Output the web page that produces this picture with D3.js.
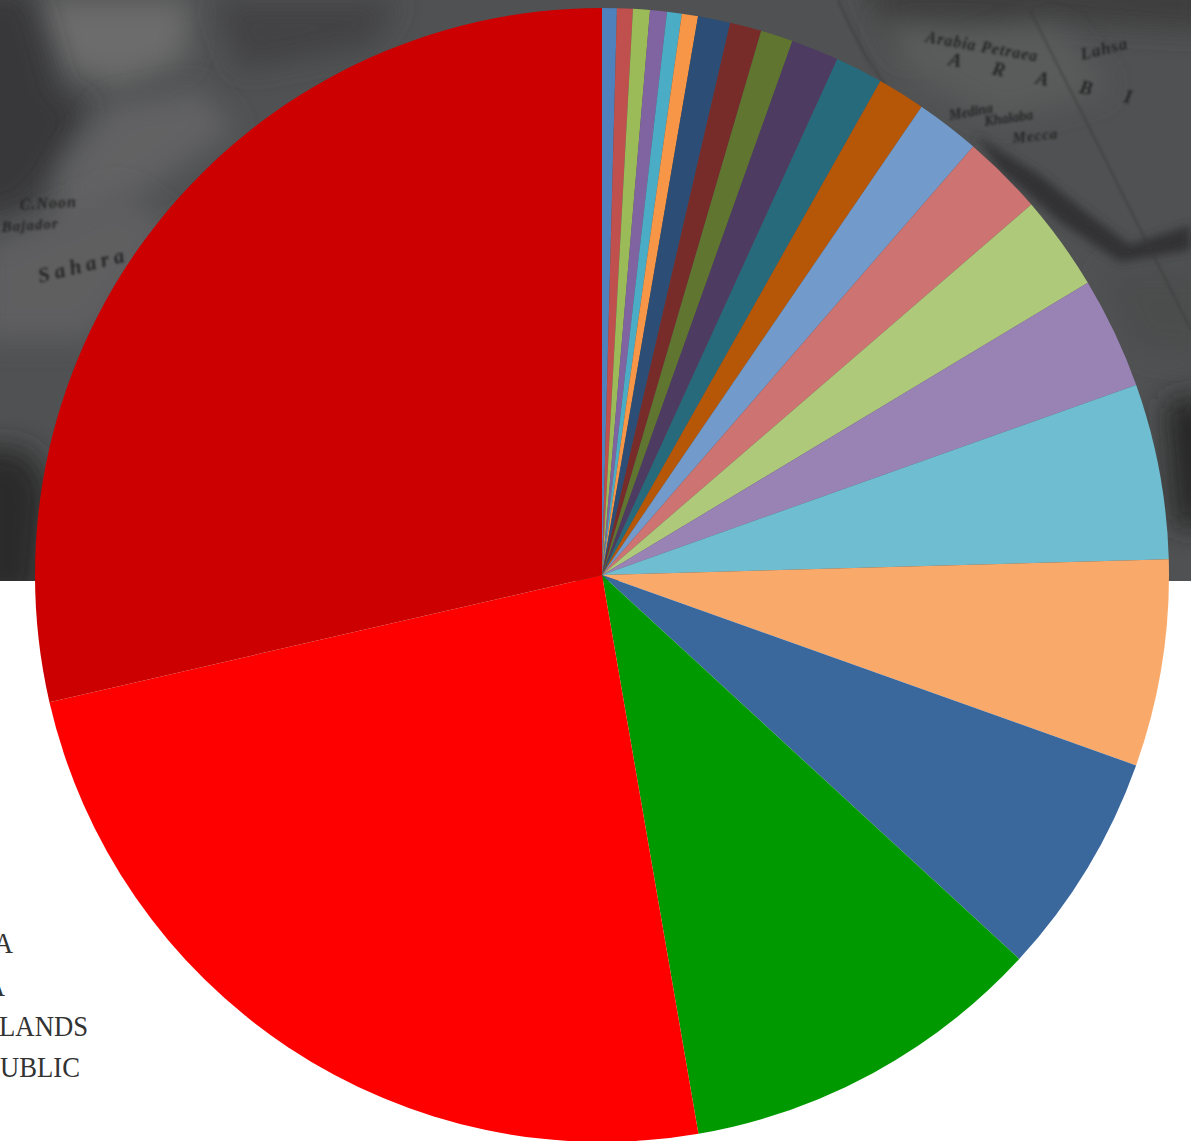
<!DOCTYPE html>
<html>
<head>
<meta charset="utf-8">
<script src="https://cdn.jsdelivr.net/npm/d3@7"></script>
<style>
  html, body { margin: 0; padding: 0; background: #fff; overflow: hidden; }
</style>
</head>
<body>
<div id="chart"></div>
<script>
// share of each slice in percent, clockwise from 12 o'clock
const sliceValues = [0.42, 0.45, 0.48, 0.48, 0.42, 0.46, 0.92, 0.90, 0.92, 1.36, 1.36,
    1.36, 1.83, 2.31, 2.71, 3.18, 5.00, 5.89, 6.39, 10.44, 24.12, 28.60];
const sliceColors = ["#4f81bd", "#c0504d", "#9bbb59", "#8064a2", "#4bacc6", "#f79646", "#2c4d75",
    "#772c2a", "#5f7530", "#4d3b62", "#276a7c", "#b65708", "#729aca", "#cd7371", "#afc97a",
    "#9983b5", "#6fbdd1", "#f9aa6b", "#3a679c", "#009900", "#ff0000", "#cc0000"];

// the legend sits mostly off the left edge, only these ends can be read
const legendLabels = ["A", "A", "LANDS", "UBLIC"];

const width = 1191, height = 1141;
const cx = 602, cy = 575, radius = 567;
const bannerHeight = 581;

const svg = d3.select("#chart").append("svg")
    .attr("width", width)
    .attr("height", height)
    .style("display", "block");

// blur filters cover the whole banner so no blob gets a square edge
const defs = svg.append("defs");
function addBlur(id, amount) {
    defs.append("filter").attr("id", id)
        .attr("filterUnits", "userSpaceOnUse")
        .attr("x", -100).attr("y", -100).attr("width", width + 200).attr("height", bannerHeight + 200)
        .append("feGaussianBlur").attr("stdDeviation", amount);
}
addBlur("soft", 14);
addBlur("softer", 5);
addBlur("inkBlur", 0.8);
defs.append("clipPath").attr("id", "bannerClip")
    .append("rect").attr("width", width).attr("height", bannerHeight);

// Grey map photo behind the top of the pie, rough shapes only
const banner = svg.append("g").attr("clip-path", "url(#bannerClip)");
banner.append("rect").attr("width", width).attr("height", bannerHeight).attr("fill", "#505152");

const blobs = [
    { d: "M35,0 L190,0 L185,60 L120,85 L65,70 Z", fill: "#6c6c6c", f: "soft" },
    { d: "M-30,-10 L30,-10 L60,95 L90,105 L55,170 L30,205 L-30,225 Z", fill: "#37383a", f: "soft" },
    { d: "M60,170 L110,105 L200,90 L235,130 L130,200 L60,240 Z", fill: "#626263", f: "soft" },
    { d: "M-20,250 L120,190 L180,230 L90,340 L-20,340 Z", fill: "#5f5f60", f: "soft" },
    { d: "M215,0 L400,0 L370,45 L240,70 Z", fill: "#434344", f: "soft" },
    { d: "M-30,445 L30,450 L50,490 L40,600 L-30,600 Z", fill: "#2a2b2c", f: "soft" },
    { d: "M860,-20 L1210,-20 L1210,30 L1040,20 L900,60 Z", fill: "#3c3c3d", f: "soft" },
    { d: "M880,20 L1060,30 L1110,90 L1000,120 L900,70 Z", fill: "#5a5b5c", f: "soft" },
    { d: "M1100,270 L1210,270 L1210,360 L1135,350 Z", fill: "#4c4d4e", f: "soft" },
    { d: "M1165,400 L1210,395 L1210,525 L1175,530 Z", fill: "#252627", f: "soft" },
    { d: "M975,135 L1040,175 L1090,215 L1130,245 L1191,225 L1191,250 L1120,262 L1060,222 L1000,170 Z", fill: "#333334", f: "softer" }
];
banner.selectAll("path.blob")
    .data(blobs)
    .enter()
    .append("path")
    .attr("class", "blob")
    .attr("d", d => d.d)
    .attr("fill", d => d.fill)
    .attr("filter", d => `url(#${d.f})`);

// line of the map border and the meridian on the right
banner.append("path")
    .attr("d", "M838,0 Q860,50 885,85 M1030,10 L1191,330")
    .attr("fill", "none")
    .attr("stroke", "#3a3a3b")
    .attr("stroke-width", 2.5)
    .attr("opacity", 0.45)
    .attr("filter", "url(#inkBlur)");

const mapWords = [
    { t: "C.Noon", x: 20, y: 210, r: -3, s: 16, sp: 1 },
    { t: "Bajador", x: 2, y: 232, r: -4, s: 15, sp: 1 },
    { t: "Sahara", x: 40, y: 283, r: -14, s: 21, sp: 5 },
    { t: "Arabia Petraea", x: 925, y: 42, r: 10, s: 16, sp: 1 },
    { t: "A R A B I", x: 948, y: 65, r: 12, s: 19, sp: 14 },
    { t: "Medina", x: 950, y: 120, r: -10, s: 14, sp: 0 },
    { t: "Khalaba", x: 985, y: 126, r: -8, s: 14, sp: 0 },
    { t: "Mecca", x: 1013, y: 143, r: -6, s: 15, sp: 1 },
    { t: "Lahsa", x: 1082, y: 60, r: -14, s: 17, sp: 1 }
];
banner.selectAll("text.mapWord")
    .data(mapWords)
    .enter()
    .append("text")
    .attr("class", "mapWord")
    .attr("transform", d => `translate(${d.x},${d.y}) rotate(${d.r})`)
    .attr("font-family", "'Liberation Serif', serif")
    .attr("font-style", "italic")
    .attr("font-weight", "bold")
    .attr("font-size", d => d.s)
    .attr("letter-spacing", d => d.sp)
    .attr("fill", "#262627")
    .attr("filter", "url(#inkBlur)")
    .text(d => d.t);

// Pie
const pie = d3.pie().sort(null).value(d => d)(sliceValues);
const arc = d3.arc().innerRadius(0).outerRadius(radius);

svg.append("g")
    .attr("transform", `translate(${cx},${cy})`)
    .selectAll("path")
    .data(pie)
    .enter()
    .append("path")
    .attr("d", arc)
    .attr("fill", (d, i) => sliceColors[i]);

// Legend ends, anchored on their right edge
const legendRight = [13, 5, 88, 80];
const legendBase = [953, 996, 1036, 1077];
svg.append("g")
    .selectAll("text")
    .data(legendLabels)
    .enter()
    .append("text")
    .attr("transform", (d, i) => `translate(${legendRight[i]},${legendBase[i]}) scale(0.92,1)`)
    .attr("text-anchor", "end")
    .attr("font-family", "'Liberation Serif', serif")
    .attr("font-size", 29)
    .attr("fill", "#333")
    .text(d => d);
</script>
</body>
</html>
